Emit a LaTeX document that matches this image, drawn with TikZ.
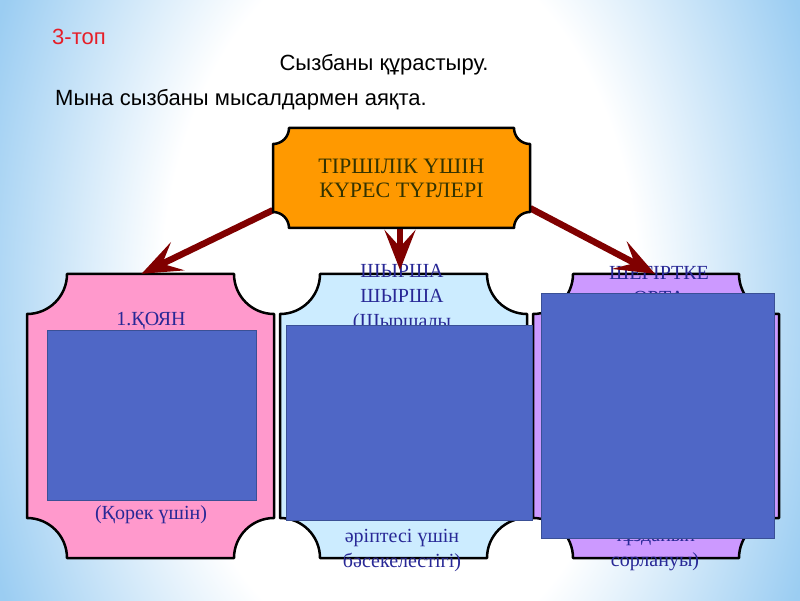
\documentclass[tikz,border=0pt]{standalone}
\usepackage{fontspec}
\setmainfont{Liberation Serif}
\newfontfamily\arialf{Liberation Sans}
\usetikzlibrary{arrows.meta}
\definecolor{bgblue}{RGB}{155,205,242}
\definecolor{arrowred}{RGB}{128,0,0}
\definecolor{orangefill}{RGB}{255,153,0}
\definecolor{pinkfill}{RGB}{255,153,204}
\definecolor{lightbluefill}{RGB}{204,236,255}
\definecolor{violetfill}{RGB}{204,153,255}
\definecolor{coverblue}{RGB}{79,103,198}
\definecolor{coveredge}{RGB}{58,80,150}
\definecolor{boxtext}{RGB}{40,40,150}
\definecolor{toptext}{RGB}{51,51,0}
\definecolor{titlered}{RGB}{230,30,40}
\pgfdeclareradialshading{slidebg}{\pgfpoint{0bp}{0bp}}{color(0bp)=(white); color(13bp)=(white); color(24bp)=(bgblue); color(50bp)=(bgblue)}
% concave-cornered plaque: fill, x1, y1, x2, y2, radius
\newcommand\plaque[6]{%
  \draw[plaqueline,fill=#1] (#2+#6,#5) -- (#4-#6,#5)
    arc[start angle=180,end angle=270,radius=#6] -- (#4,#3+#6)
    arc[start angle=90,end angle=180,radius=#6] -- (#2+#6,#3)
    arc[start angle=0,end angle=90,radius=#6] -- (#2,#5-#6)
    arc[start angle=270,end angle=360,radius=#6] -- cycle;}
\tikzset{
  plaqueline/.style={draw=black,line width=2.5pt,line join=round},
  slidetext/.style={inner sep=0pt,font=\arialf\fontsize{22}{26}\selectfont},
  boxarea/.style={draw=none,inner sep=0pt},
  boxlabel/.style={inner sep=0pt,align=center,text=boxtext,font=\fontsize{20}{25}\selectfont},
  toplabel/.style={inner sep=0pt,align=center,text=toptext,font=\fontsize{22}{24}\selectfont},
  arr/.style={line width=6.5pt,draw=arrowred,-{Stealth[length=40pt,width=31pt,inset=17pt]}},
  cover/.style={fill=coverblue,draw=coveredge,line width=0.8pt,inner sep=0pt}
}
\begin{document}
\begin{tikzpicture}[x=1pt,y=1pt]
\useasboundingbox (0,0) rectangle (800,600);
\begin{scope}
  \clip (0,0) rectangle (800,600);
  \shade[shading=slidebg] (-60,-400) rectangle (860,1000);
\end{scope}
% header texts
\node[slidetext,anchor=west,text=titlered] (group) at (52,563) {3-топ};
\node[slidetext] (title) at (384,535) {Сызбаны құрастыру.};
\node[slidetext,anchor=west] (task) at (55,500) {Мына сызбаны мысалдармен аяқта.};
% lower plaques
\plaque{pinkfill}{27}{42}{274}{326}{40}
\plaque{lightbluefill}{280}{42}{527}{326}{40}
\plaque{violetfill}{533}{42}{779}{326}{40}
\node[boxarea,minimum width=247,minimum height=284] (koyan) at (150.5,184) {};
\node[boxarea,minimum width=247,minimum height=284] (shyrsha) at (403.5,184) {};
\node[boxarea,minimum width=246,minimum height=284] (shegirtke) at (656,184) {};
% texts in the lower plaques
\node[boxlabel] (koyanTop) at (151,279) {1.ҚОЯН};
\node[boxlabel] (koyanBottom) at (151,85) {(Қорек үшін)};
\node[boxlabel] (shyrshaTop) at (402,302) {ШЫРША\\ШЫРША\\(Шыршалы};
\node[boxlabel] (shyrshaBottom) at (402,49.5) {әріптесі үшін\\бәсекелестігі)};
\node[boxlabel] (shegirtkeTop) at (659,314.5) {ШЕГІРТКЕ\\ОРТА};
\node[boxlabel] (shegirtkeBottom) at (655,48.5) {тұзданып\\сорлануы)};
% top plaque node (for anchors)
\node[boxarea,minimum width=257,minimum height=100] (top) at (401.5,422) {};
\coordinate (midtip) at (400,330);
% arrows
\draw[arr] ([yshift=18]top.south west) -- ([xshift=-9]koyan.north);
\draw[arr] ([xshift=-1.5]top.south) -- (midtip);
\draw[arr] ([yshift=20]top.south east) -- ([xshift=-1]shegirtke.north);
% top plaque
\plaque{orangefill}{273}{372}{530}{472}{16}
\node[toplabel] (topText) at (top.center) {ТІРШІЛІК ҮШІН\\КҮРЕС ТҮРЛЕРІ};
% covering rectangles
\node[cover,minimum width=209,minimum height=170] (coverA) at (151.5,185) {};
\node[cover,minimum width=246,minimum height=195] (coverB) at (409,177.5) {};
\node[cover,minimum width=233,minimum height=245] (coverC) at (657.5,184.5) {};
\end{tikzpicture}
\end{document}
